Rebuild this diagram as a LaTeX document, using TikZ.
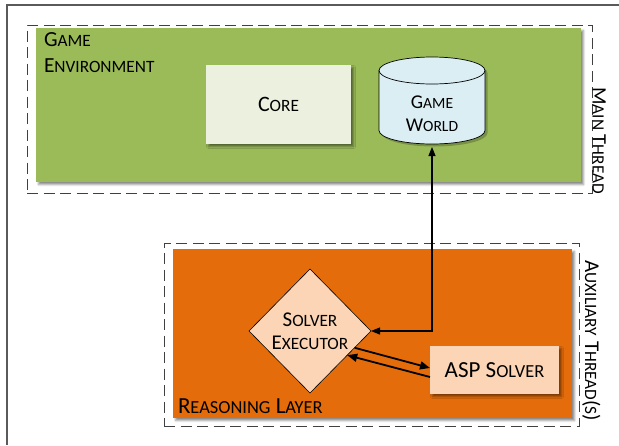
\documentclass[tikz,border=0pt]{standalone}
\usepackage{fontspec}
\setmainfont{Carlito}
\usepackage{relsize}
\usetikzlibrary{shapes.geometric,arrows.meta,shadows.blur,calc}

\definecolor{envgreen}{HTML}{9BBB59}
\definecolor{layerorange}{HTML}{E46C0A}
\definecolor{corefill}{HTML}{EBF1DE}
\definecolor{worldfill}{HTML}{DAEEF3}
\definecolor{peach}{HTML}{FBD5B5}
\definecolor{framegray}{HTML}{5A5A5A}

% first letter full size, the rest as smaller capitals
\newcommand\capsm[2]{#1{\relscale{0.8}#2}}

\begin{document}
\begin{tikzpicture}[x=1pt,y=1pt,
  box/.style={rectangle, inner sep=0pt, outer sep=0pt, anchor=north west},
  threadbox/.style={box, draw=black!75, line width=0.9pt, dash pattern=on 11pt off 5.5pt},
  soft/.style={blur shadow={shadow xshift=2.5pt, shadow yshift=-2.5pt,
      shadow blur radius=2pt, shadow opacity=45}},
  lbl/.style={inner sep=0pt, outer sep=0pt, text=black},
  link/.style={line width=1.1pt,
      {Triangle[length=9pt,width=7pt]}-{Triangle[length=9pt,width=7pt]}},
  flow/.style={line width=1.8pt, -{Triangle[length=10pt,width=8pt]}}
]
\useasboundingbox (0,0) rectangle (619,-445);

% outer frame (left and top edges)
\draw[framegray, line width=1.4pt] (7,-445) -- (7,-5) -- (619,-5);

% thread boundaries
\node[threadbox, minimum width=565pt, minimum height=168pt] (mainthr) at (27,-25) {};
\node[threadbox, minimum width=415pt, minimum height=183pt] (auxthr) at (164,-243) {};

% layer panels
\node[box, soft, fill=envgreen, minimum width=545pt, minimum height=154pt] (env) at (36,-28) {};
\node[box, soft, fill=layerorange, minimum width=399pt, minimum height=169pt] (layer) at (173,-249) {};

% panel titles
\node[lbl, anchor=west, align=left, font=\fontsize{21.5}{26}\selectfont] (envlbl) at (44,-52.5)
  {\capsm{G}{AME}\\\capsm{E}{NVIRONMENT}};
\node[lbl, anchor=base west, font=\fontsize{23}{26}\selectfont] (layerlbl) at (178,-413.5)
  {\capsm{R}{EASONING} \capsm{L}{AYER}};

% thread captions
\node[lbl, rotate=-90, anchor=base east, font=\fontsize{20.5}{22}\selectfont] (mainlbl) at (592.5,-194)
  {\capsm{M}{AIN} \capsm{T}{HREAD}};
\node[lbl, rotate=-90, anchor=base east, font=\fontsize{21}{22}\selectfont] (auxlbl) at (585,-421)
  {\capsm{A}{UXILIARY} \capsm{T}{HREAD}(\capsm{}{S})};

% core
\node[box, soft, fill=corefill, minimum width=145pt, minimum height=79pt,
      font=\fontsize{22}{24}\selectfont] (core) at (206,-65) {\capsm{C}{ORE}};

% game world store (cylinder)
\begin{scope}[shift={(2.5,-2.5)}]
  \fill[black, opacity=0.22] (379,-70.5) -- (379,-130.5)
    arc[start angle=180, end angle=360, x radius=53pt, y radius=13.5pt]
    -- (485,-70.5)
    arc[start angle=0, end angle=180, x radius=53pt, y radius=13.5pt] -- cycle;
\end{scope}
\filldraw[fill=worldfill, draw=black, line width=0.7pt] (379,-70.5) -- (379,-130.5)
  arc[start angle=180, end angle=360, x radius=53pt, y radius=13.5pt]
  -- (485,-70.5)
  arc[start angle=0, end angle=180, x radius=53pt, y radius=13.5pt] -- cycle;
\draw[black, line width=0.7pt] (379,-70.5)
  arc[start angle=180, end angle=360, x radius=53pt, y radius=13.5pt];
\node[box, minimum width=106pt, minimum height=87pt] (world) at (379,-57) {};
\node[lbl, align=center, font=\fontsize{19.5}{23}\selectfont] (worldtxt) at (432,-113.5)
  {\capsm{G}{AME}\\\capsm{W}{ORLD}};

% solver executor
\node[diamond, draw=black, line width=0.6pt, fill=peach, minimum width=122pt,
      minimum height=124pt, inner sep=0pt, outer sep=0pt, align=center,
      font=\fontsize{21}{23.5}\selectfont] (exec) at (310,-331)
  {\capsm{S}{OLVER}\\\capsm{E}{XECUTOR}};

% ASP solver
\node[rectangle, soft, fill=peach, minimum width=129pt, minimum height=48pt,
      inner sep=0pt, outer sep=0pt, font=\fontsize{23}{26}\selectfont] (asp) at (494.5,-370)
  {ASP \capsm{S}{OLVER}};

% connectors
\draw[link] (exec.east) -| ([yshift=-3pt]world.south);
\draw[flow] ($(exec.east)!0.27!(exec.south)$) -- ([yshift=2pt]asp.west);
\draw[flow] ([yshift=-7pt]asp.west) -- ($(exec.east)!0.39!(exec.south)$);
\end{tikzpicture}
\end{document}
